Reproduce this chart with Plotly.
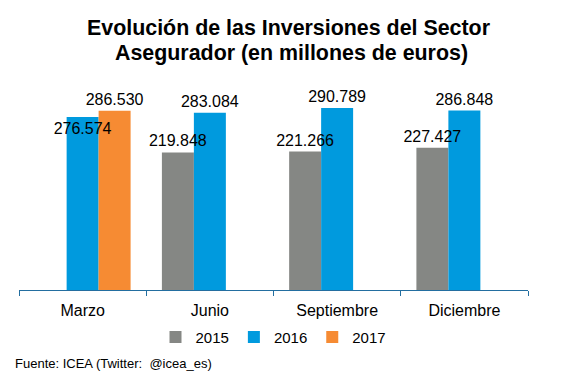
import plotly.graph_objects as go

categories = ["Marzo", "Junio", "Septiembre", "Diciembre"]
years = ["2015", "2016", "2017"]
values_2015 = [None, 219.848, 221.266, 227.427]
values_2016 = [276.574, 283.084, 290.789, 286.848]
values_2017 = [286.530, None, None, None]
colors = ["#858784", "#009ADE", "#F68B33"]
title_lines = ["Evolución de las Inversiones del Sector", "Asegurador (en millones de euros)"]
source_text = "Fuente: ICEA (Twitter:  @icea_es)"

FONT = "Liberation Sans, Arial, sans-serif"

def fmt(v):
    return "" if v is None else f"{v:.3f}"

series = [values_2015, values_2016, values_2017]
positions = [
    ["outside"] * 4,
    ["inside", "outside", "outside", "outside"],
    ["outside"] * 4,
]

fig = go.Figure()
# coloured bars
for name, vals, col in zip(years, series, colors):
    fig.add_trace(go.Bar(
        x=categories, y=vals, name=name, offsetgroup=name,
        marker=dict(color=col, line=dict(width=0)),
        hoverinfo="skip",
    ))
# value labels drawn on top of all bars (same offset groups, transparent)
for name, vals, pos in zip(years, series, positions):
    fig.add_trace(go.Bar(
        x=categories, y=vals, name=name + " labels", offsetgroup=name,
        marker=dict(color="rgba(0,0,0,0)", line=dict(width=0)),
        text=[fmt(v) for v in vals],
        textposition=pos,
        insidetextanchor="end",
        textangle=0,
        constraintext="none",
        cliponaxis=False,
        textfont=dict(family=FONT, size=16, color="#000000"),
        insidetextfont=dict(family=FONT, size=16, color="#000000"),
        outsidetextfont=dict(family=FONT, size=16, color="#000000"),
        showlegend=False,
        hoverinfo="skip",
    ))

fig.update_layout(
    width=567, height=378,
    margin=dict(l=19, r=39, t=71, b=88),
    paper_bgcolor="white", plot_bgcolor="white",
    barmode="group", bargap=0.246, bargroupgap=0,
    font=dict(family=FONT, color="#000000"),
    uniformtext=dict(mode="show", minsize=16),
    showlegend=True,
    legend=dict(
        orientation="h", x=0.5, xanchor="center", y=-0.216, yanchor="middle",
        font=dict(size=15, color="#000000"),
        itemclick=False, itemdoubleclick=False,
    ),
    xaxis=dict(
        type="category", showline=True, linecolor="#236EA0", linewidth=1.3,
        ticks="outside", ticklen=5, tickcolor="#236EA0", tickwidth=1.3,
        tickson="boundaries", showgrid=False, zeroline=False,
        tickfont=dict(size=16, color="#000000"),
        ticklabelstandoff=6,
        range=[-0.5, 3.5],
    ),
    yaxis=dict(visible=False, range=[0, 350], showgrid=False, zeroline=False),
    annotations=[
        dict(text="<b>" + title_lines[0] + "</b>", xref="paper", yref="paper",
             x=(288 - 19) / 509, y=1 + (71 - 27.5) / 219, xanchor="center", yanchor="middle",
             showarrow=False, font=dict(family=FONT, size=21.4, color="#000000")),
        dict(text="<b>" + title_lines[1] + "</b>", xref="paper", yref="paper",
             x=(291 - 19) / 509, y=1 + (71 - 53) / 219, xanchor="center", yanchor="middle",
             showarrow=False, font=dict(family=FONT, size=21.4, color="#000000")),
        dict(text=source_text, xref="paper", yref="paper",
             x=-6.3 / 509, y=-0.335, xanchor="left", yanchor="middle", showarrow=False,
             font=dict(family=FONT, size=13, color="#000000")),
    ],
)

fig.write_html("out.html", config={"displayModeBar": False},
               post_script="document.body.style.margin='0';")
